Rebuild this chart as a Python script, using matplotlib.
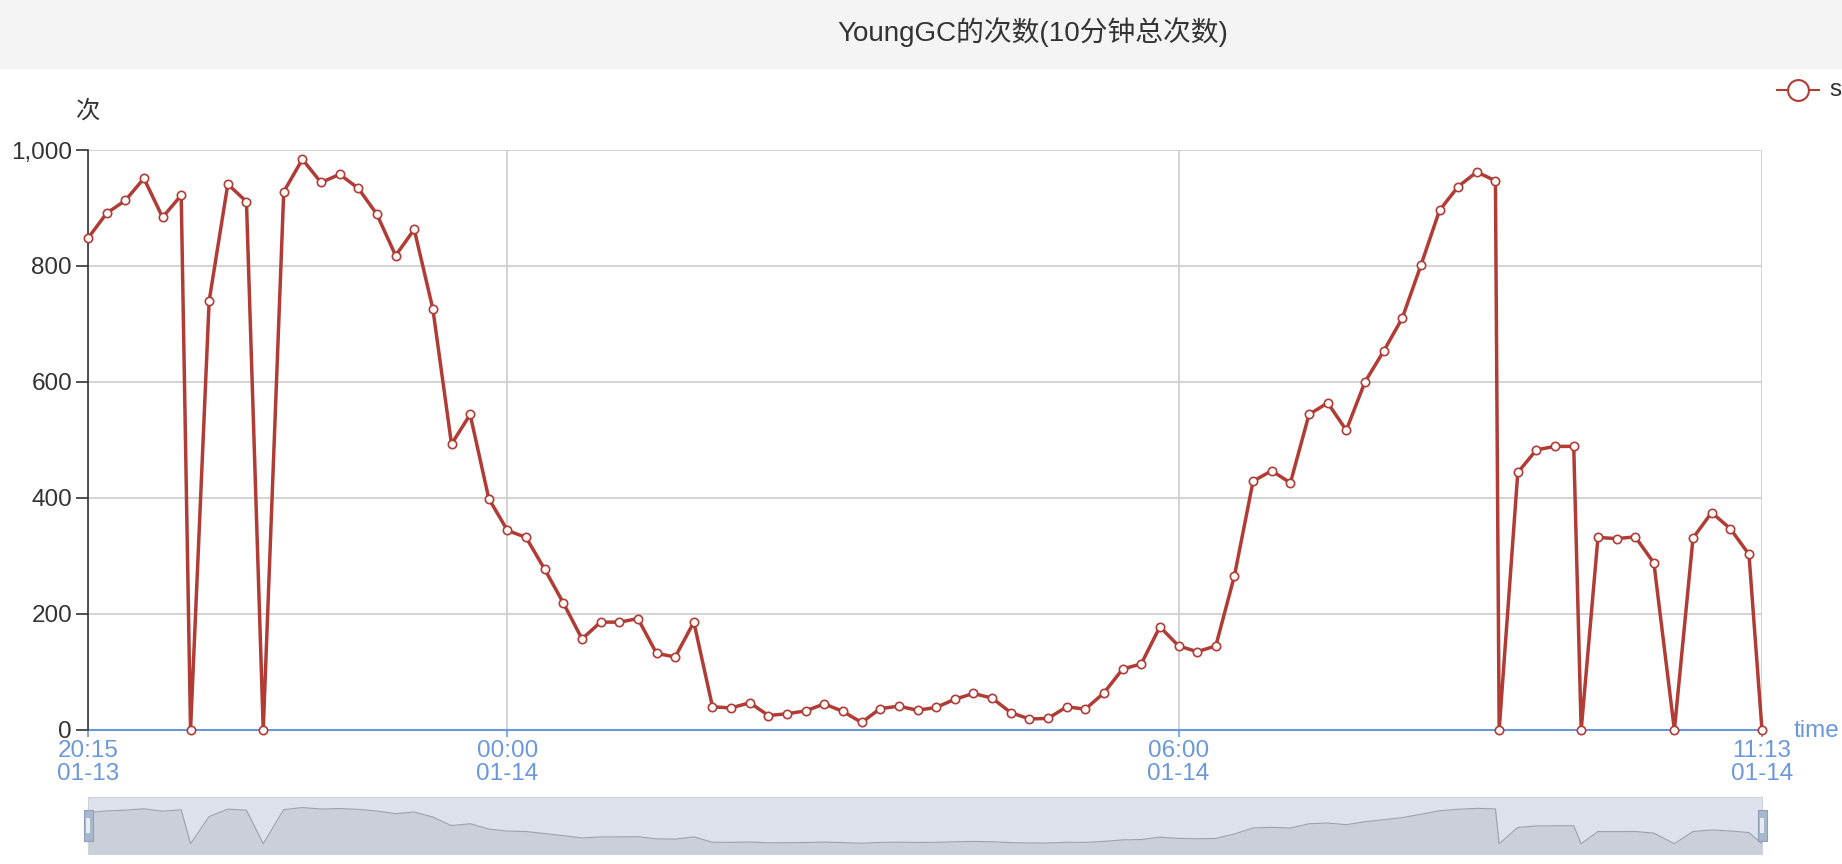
import matplotlib
matplotlib.use('Agg')
import matplotlib.pyplot as plt
import pandas as pd
from matplotlib.patches import Rectangle
from matplotlib.lines import Line2D

# Fonts: Latin from Liberation Sans, Chinese falls back to Noto Sans CJK
plt.rcParams['font.family'] = ['Liberation Sans', 'Noto Sans CJK SC', 'DejaVu Sans']

# Texts
TITLE = 'YoungGC的次数(10分钟总次数)'
SERIES_NAME = 's'
Y_UNIT = '次'
X_NAME = 'time'

# Sample times (01-13 evening to 01-14 morning)
times = [
    '01-13 20:15', '01-13 20:25', '01-13 20:35', '01-13 20:45', '01-13 20:55', '01-13 21:05',
    '01-13 21:10',
    '01-13 21:20', '01-13 21:30', '01-13 21:40',
    '01-13 21:49',
    '01-13 22:00', '01-13 22:10', '01-13 22:20', '01-13 22:30', '01-13 22:40', '01-13 22:50',
    '01-13 23:00', '01-13 23:10', '01-13 23:20', '01-13 23:30', '01-13 23:40', '01-13 23:50',
    '01-14 00:00', '01-14 00:10', '01-14 00:20', '01-14 00:30', '01-14 00:40', '01-14 00:50',
    '01-14 01:00', '01-14 01:10', '01-14 01:20', '01-14 01:30', '01-14 01:40', '01-14 01:50',
    '01-14 02:00', '01-14 02:10', '01-14 02:20', '01-14 02:30', '01-14 02:40', '01-14 02:50',
    '01-14 03:00', '01-14 03:10', '01-14 03:20', '01-14 03:30', '01-14 03:40', '01-14 03:50',
    '01-14 04:00', '01-14 04:10', '01-14 04:20', '01-14 04:30', '01-14 04:40', '01-14 04:50',
    '01-14 05:00', '01-14 05:10', '01-14 05:20', '01-14 05:30', '01-14 05:40', '01-14 05:50',
    '01-14 06:00', '01-14 06:10', '01-14 06:20', '01-14 06:30', '01-14 06:40', '01-14 06:50',
    '01-14 07:00', '01-14 07:10', '01-14 07:20', '01-14 07:30', '01-14 07:40', '01-14 07:50',
    '01-14 08:00', '01-14 08:10', '01-14 08:20', '01-14 08:30', '01-14 08:40', '01-14 08:50',
    '01-14 08:52',
    '01-14 09:02', '01-14 09:12', '01-14 09:22', '01-14 09:32',
    '01-14 09:36',
    '01-14 09:45', '01-14 09:55', '01-14 10:05', '01-14 10:15',
    '01-14 10:26',
    '01-14 10:36', '01-14 10:46', '01-14 10:56', '01-14 11:06',
    '01-14 11:13',
]

# YoungGC counts per 10 minutes
counts = [
    848, 891, 913, 951, 884, 922,
    0,
    740, 941, 911,
    0,
    928, 984, 944, 958, 934, 889,
    818, 863, 726, 493, 544, 399,
    344, 332, 277, 219, 157, 186,
    186, 192, 132, 126, 186, 40,
    38, 47, 25, 28, 33, 45,
    32, 13, 37, 41, 34, 39,
    53, 63, 55, 30, 19, 20,
    40, 36, 64, 105, 114, 178,
    145, 135, 145, 266, 429, 447,
    426, 544, 564, 517, 600, 653,
    710, 801, 896, 937, 962, 947,
    0,
    444, 483, 489, 489,
    0,
    332, 330, 333, 288,
    0,
    331, 375, 347, 303,
    0,
]

x_tick_times = ['01-13 20:15', '01-14 00:00', '01-14 06:00', '01-14 11:13']
x_tick_labels = ['20:15\n01-13', '00:00\n01-14', '06:00\n01-14', '11:13\n01-14']
y_ticks = [0, 200, 400, 600, 800, 1000]
y_tick_labels = ['0', '200', '400', '600', '800', '1,000']

LINE_RED = '#b03c35'
AXIS_BLUE = '#6b98dc'
TEXT_DARK = '#333333'
GRID_GRAY = '#cccccc'

t = pd.to_datetime(['2020-' + s for s in times])
tick_t = pd.to_datetime(['2020-' + s for s in x_tick_times])

W, H = 1842, 864
fig = plt.figure(figsize=(W / 100, H / 100), dpi=100)
fig.patch.set_facecolor('white')

# title bar
fig.patches.append(Rectangle((0, (H - 69) / H), 1, 69 / H, transform=fig.transFigure,
                             facecolor='#f4f4f4', edgecolor='none', zorder=0))
fig.text(1033 / W, (H - 32) / H, TITLE, ha='center', va='center', fontsize=20, color=TEXT_DARK)

# main plot
ax = fig.add_axes([88 / W, (H - 730) / H, (1762 - 88) / W, (730 - 150) / H])
ax.plot(t, counts, color=LINE_RED, lw=2.5, marker='o', ms=6, mfc='white', mec=LINE_RED,
        mew=1.2, zorder=3, clip_on=False)
ax.set_xlim(t[0], t[-1])
ax.set_ylim(0, 1000)

ax.set_yticks(y_ticks)
ax.set_yticklabels(y_tick_labels)
ax.set_xticks(tick_t)
ax.set_xticklabels(x_tick_labels, linespacing=1.05)

ax.grid(True, color=GRID_GRAY, lw=1.2, zorder=0)
ax.set_axisbelow(True)
for side in ['top', 'right']:
    ax.spines[side].set_visible(False)
ax.spines['left'].set_color(TEXT_DARK)
ax.spines['left'].set_linewidth(1.2)
ax.spines['bottom'].set_color(AXIS_BLUE)
ax.spines['bottom'].set_linewidth(1.5)
ax.spines['bottom'].set_zorder(2)
ax.tick_params(axis='y', colors=TEXT_DARK, labelsize=17.5, length=8.5, width=1.2, pad=3)
ax.tick_params(axis='x', colors=AXIS_BLUE, labelcolor=AXIS_BLUE, labelsize=17.5, length=5,
               width=1.2, pad=2.5)

# axis names
fig.text(88 / W, (H - 111) / H, Y_UNIT, ha='center', va='center', fontsize=17.5, color=TEXT_DARK)
fig.text(1794 / W, (H - 731) / H, X_NAME, ha='left', va='center', fontsize=17.5, color=AXIS_BLUE)

# legend at the top right edge
fig.lines.append(Line2D([1777 / W, 1819 / W], [(H - 90) / H] * 2, transform=fig.transFigure,
                        color=LINE_RED, lw=1.5))
fig.lines.append(Line2D([1798 / W], [(H - 90) / H], transform=fig.transFigure, marker='o',
                        ms=15, mfc='white', mec=LINE_RED, mew=1.5))
fig.text(1829 / W, (H - 90) / H, SERIES_NAME, ha='left', va='center', fontsize=17.5, color=TEXT_DARK)

# data zoom slider
sl = fig.add_axes([88 / W, (H - 854) / H, (1762 - 88) / W, (854 - 797) / H])
sl.set_facecolor('#dce1eb')
sl.set_xlim(t[0], t[-1])
sl.set_ylim(-279, 1271)
sl.fill_between(t, counts, -279, color='#cacfda', lw=0)
sl.plot(t, counts, color='#9aa2b0', lw=0.8)
sl.set_xticks([])
sl.set_yticks([])
for sp in sl.spines.values():
    sp.set_color('#cfd4dc')
hw = 9 / (1762 - 88)
for hx in (0, 1):
    sl.add_patch(Rectangle((hx - hw / 2, 0.22), hw, 0.56, transform=sl.transAxes,
                           facecolor='#a7b7cc', edgecolor='#8fa0b8', lw=0.8, clip_on=False, zorder=5))
    sl.add_patch(Rectangle((hx - hw / 4, 0.36), hw / 2, 0.28, transform=sl.transAxes,
                           facecolor='#e6ebf2', edgecolor='none', clip_on=False, zorder=6))

plt.savefig('out.png', dpi=100)
